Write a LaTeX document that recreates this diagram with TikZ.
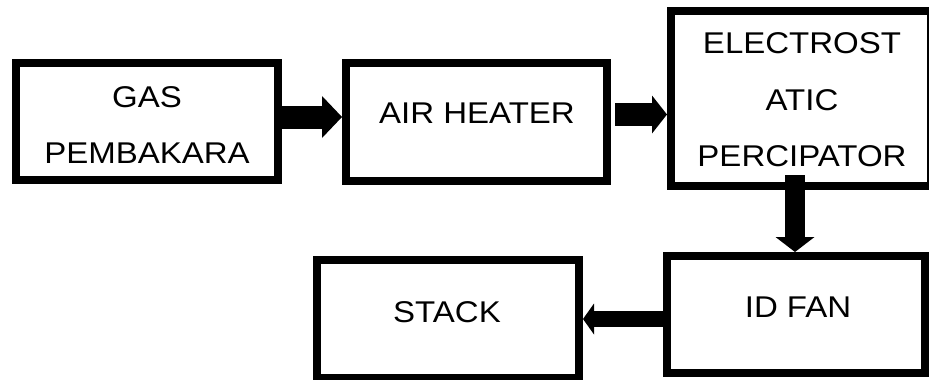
\documentclass[tikz,border=0pt]{standalone}
\usepackage{fontspec}
\setmainfont[FakeStretch=1.1]{Liberation Sans}
\usetikzlibrary{arrows.meta}
\begin{document}
\begin{tikzpicture}[x=1pt,y=-1pt,
  blk/.style={draw=black,line width=8pt,fill=white,rectangle,inner sep=0pt},
  lbl/.style={inner sep=0pt,align=center,font=\fontsize{30}{56.5}\selectfont},
  flow/.style={draw=black,line width=#1},
]
\useasboundingbox (0,0) rectangle (929,380);
% boxes
\node[blk,minimum width=262pt,minimum height=117pt] (b1) at (147,121.5) {};
\node[blk,minimum width=261pt,minimum height=118pt] (b2) at (476.5,122) {};
\node[blk,minimum width=260pt,minimum height=175pt] (b3) at (801,98.5) {};
\node[blk,minimum width=258pt,minimum height=117pt] (b4) at (796,314.5) {};
\node[blk,minimum width=262pt,minimum height=118pt] (b5) at (448,319) {};
% labels
\node[lbl] (t1) at (147,125) {GAS\\PEMBAKARA};
\node[lbl] (t2) at (477,113) {AIR HEATER};
\node[lbl] (t3) at (802,100) {ELECTROST\\ATIC\\PERCIPATOR};
\node[lbl] (t4) at (798,307) {ID FAN};
\node[lbl] (t5) at (447,312) {STACK};
% connectors
\coordinate (s1) at ([yshift=4.5pt]b1.east);
\draw[flow=23pt,-{Triangle[length=20pt,width=42pt,line width=0pt]}]
  (s1) -- (s1 -| b2.west);
\coordinate (s2) at ([xshift=4pt,yshift=7.5pt]b2.east);
\draw[flow=23pt,-{Triangle[length=15pt,width=38pt,line width=0pt]}]
  (s2) -- (s2 -| b3.west);
\coordinate (s3) at ([xshift=-6pt,yshift=15pt]b3.south);
\draw[flow=20pt,-{Triangle[length=15pt,width=39pt,line width=0pt]}]
  (s3) -- (s3 |- b4.north);
\coordinate (s4) at ([yshift=-4.5pt]b4.west);
\draw[flow=16pt,-{Triangle[length=11pt,width=31pt,line width=0pt]}]
  (s4) -- (s4 -| b5.east);
\end{tikzpicture}
\end{document}
